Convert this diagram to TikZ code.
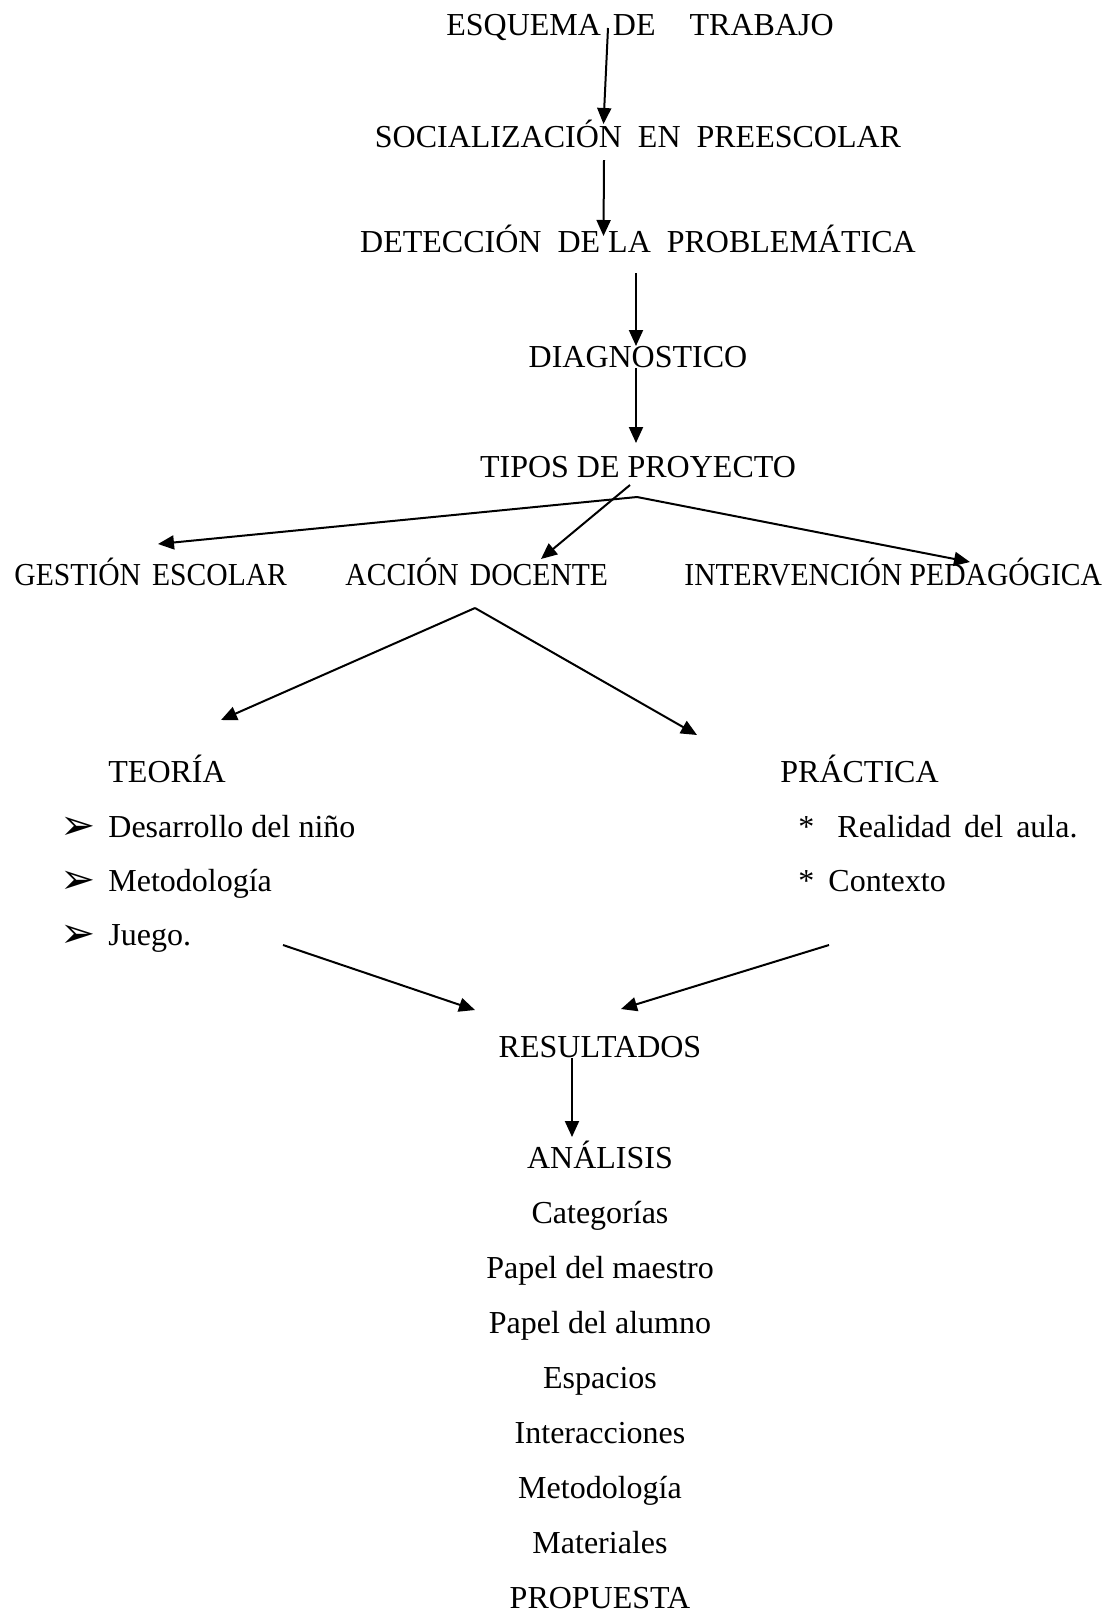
\documentclass[tikz,border=0pt]{standalone}
\usepackage{fontspec}
\setmainfont{Liberation Serif}
\newfontfamily\dingfont{DejaVu Sans}
\usetikzlibrary{arrows.meta}
\usetikzlibrary{positioning}
% the row of project types is set a little narrower
\newcommand{\narrowrow}[1]{\scalebox{0.925}[1]{#1}}
\tikzset {
  txt/.style = {
    inner sep = 0,
    anchor = base,
    font = \fontsize{16}{19}\selectfont
  },
  % left aligned text
  ltxt/.style = {
    txt,
    anchor = base west
  },
  bullet/.style = {
    ltxt,
    font = \fontsize{21}{23}\dingfont
  },
  arr/.style = {
    draw = black,
    line width = 1pt,
    -{Triangle[length = 8pt, width = 7pt]}
  }
}

\begin{document}
\begin{tikzpicture}[x = 0.5pt, y = -0.5pt]
    \path[fill = white] (0,0) rectangle (1104,1613);

    % main chain
    \node[txt] (esquema) at (640,35) {ESQUEMA\hspace{6pt}DE\hspace{17pt}TRABAJO};
    \node[txt] (socializacion) at (638,147) {SOCIALIZACIÓN\hspace{8pt}EN\hspace{8pt}PREESCOLAR};
    \node[txt] (deteccion) at (638,252) {DETECCIÓN\hspace{8pt}DE LA\hspace{8pt}PROBLEMÁTICA};
    \node[txt] (diagnostico) at (638,367) {DIAGNOSTICO};
    \node[txt] (tipos) at (638,477) {TIPOS DE PROYECTO};

    % project types
    \node[ltxt] (gestion) at (14,585) {\narrowrow{GESTIÓN\hspace{6pt}ESCOLAR}};
    \node[ltxt] (accion) at (345,585) {\narrowrow{ACCIÓN\hspace{6pt}DOCENTE}};
    \node[ltxt] (intervencion) at (684,585) {\narrowrow{INTERVENCIÓN PEDAGÓGICA}};

    % theory and practice
    \node[ltxt] (teoria) at (108,782) {TEORÍA};
    \node[bullet] (b1) at (60,839) {➢};
    \node[ltxt] (desarrollo) at (108,837) {Desarrollo del niño};
    \node[bullet] (b2) at (60,893) {➢};
    \node[ltxt] (metodo-teoria) at (108,891) {Metodología};
    \node[bullet] (b3) at (60,947) {➢};
    \node[ltxt] (juego) at (108,945) {Juego.};

    \node[ltxt] (practica) at (780,782) {PRÁCTICA};
    \node[ltxt] (ast1) at (798,837) {*};
    \node[ltxt] (realidad) at (837,837) {Realidad\hspace{6.5pt}del\hspace{6.5pt}aula.};
    \node[ltxt] (ast2) at (798,891) {*};
    \node[ltxt] (contexto) at (828,891) {Contexto};

    % results and analysis
    \node[txt] (resultados) at (600,1057) {RESULTADOS};
    \node[txt] (analisis) at (600,1168) {ANÁLISIS};
    \foreach \cat [count=\i] in {Categorías, Papel del maestro, Papel del alumno,
      Espacios, Interacciones, Metodología, Materiales, PROPUESTA}
      \node[txt] (cat-\i) at (600,1168+55*\i) {\cat};

    % arrow ends
    \coordinate (esquema-out) at (608,28);
    \coordinate (socializacion-in) at (603.5,124);
    \coordinate (socializacion-out) at (604,160);
    \coordinate (deteccion-in) at (603.5,236);
    \coordinate (deteccion-out) at (636,273);
    \coordinate (diagnostico-in) at (636,346);
    \coordinate (diagnostico-out) at (636,368);
    \coordinate (tipos-in) at (636,443);
    \coordinate (tipos-fork) at (637,497);
    \coordinate (tipos-out) at (630,485);
    \coordinate (gestion-in) at (158,544);
    \coordinate (accion-in) at (541,559);
    \coordinate (intervencion-in) at (970,562);
    \coordinate (accion-fork) at (475,608);
    \coordinate (teoria-in) at (221,720);
    \coordinate (practica-in) at (697,735);
    \coordinate (teoria-out) at (283,945);
    \coordinate (practica-out) at (829,945);
    \coordinate (resultados-in-l) at (475,1010);
    \coordinate (resultados-in-r) at (621,1009);
    \coordinate (resultados-out) at (572,1058);
    \coordinate (analisis-in) at (572,1137);

    \draw[arr] (esquema-out) -- (socializacion-in);
    \draw[arr] (socializacion-out) -- (deteccion-in);
    \draw[arr] (deteccion-out) -- (diagnostico-in);
    \draw[arr] (diagnostico-out) -- (tipos-in);

    \draw[arr] (tipos-fork) -- (gestion-in);
    \draw[arr] (tipos-out) -- (accion-in);
    \draw[arr] (tipos-fork) -- (intervencion-in);

    \draw[arr] (accion-fork) -- (teoria-in);
    \draw[arr] (accion-fork) -- (practica-in);

    \draw[arr] (teoria-out) -- (resultados-in-l);
    \draw[arr] (practica-out) -- (resultados-in-r);
    \draw[arr] (resultados-out) -- (analisis-in);
\end{tikzpicture}
\end{document}
